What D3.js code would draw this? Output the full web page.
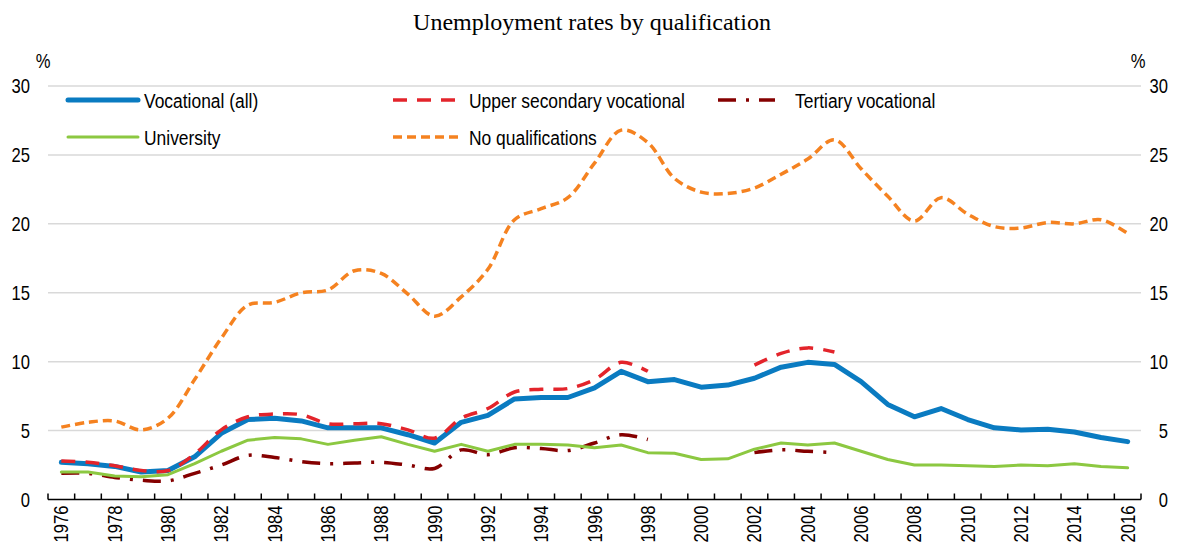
<!DOCTYPE html>
<html>
<head>
<meta charset="utf-8">
<script src="https://cdn.jsdelivr.net/npm/d3@7"></script>
<style>
  body { margin: 0; background: #fff; }
  text { font-family: "Liberation Sans Narrow", "Arial Narrow", "Liberation Sans", Arial, sans-serif; }
</style>
</head>
<body>
<div id="chart"></div>
<script>
// data
var years = d3.range(1976, 2017);

var vocationalAll = [2.7, 2.6, 2.4, 2.0, 2.1, 3.1, 4.8, 5.8, 5.9, 5.7, 5.2, 5.2, 5.2, 4.7, 4.1,
  5.6, 6.1, 7.3, 7.4, 7.4, 8.1, 9.3, 8.55, 8.7, 8.15, 8.3, 8.8, 9.6, 9.95, 9.8,
  8.55, 6.9, 6.0, 6.6, 5.8, 5.2, 5.05, 5.1, 4.9, 4.5, 4.2];

var upperSecondary = [2.8, 2.7, 2.45, 2.1, 2.1, 3.3, 5.05, 6.0, 6.2, 6.15, 5.5, 5.5, 5.5, 5.05, 4.45,
  5.9, 6.6, 7.8, 8.0, 8.05, 8.7, 9.95, 9.3, null, null, null, 9.75, 10.6, 11.0, 10.7,
  null, null, null, null, null, null, null, null, null, null, null];

var tertiary = [1.9, 1.9, 1.6, 1.4, 1.35, 1.9, 2.5, 3.2, 3.05, 2.75, 2.6, 2.65, 2.7, 2.5, 2.25,
  3.6, 3.25, 3.75, 3.7, 3.55, 4.1, 4.7, 4.35, null, null, null, 3.4, 3.6, 3.5, 3.4,
  null, null, null, null, null, null, null, null, null, null, null];

var university = [2.0, 2.0, 1.7, 1.65, 1.8, 2.6, 3.5, 4.3, 4.5, 4.4, 4.0, 4.3, 4.55, 4.0, 3.5,
  4.0, 3.5, 4.0, 4.0, 3.95, 3.75, 3.95, 3.4, 3.35, 2.9, 2.95, 3.65, 4.1, 3.95, 4.1,
  3.5, 2.9, 2.5, 2.5, 2.45, 2.4, 2.5, 2.45, 2.6, 2.4, 2.3];

var noQualifications = [5.25, 5.6, 5.7, 5.05, 5.9, 8.7, 11.7, 14.1, 14.3, 15.0, 15.2, 16.6, 16.4, 14.9, 13.3,
  14.7, 16.7, 20.3, 21.1, 21.9, 24.4, 26.8, 25.9, 23.3, 22.3, 22.2, 22.6, 23.6, 24.7, 26.1,
  24.0, 22.0, 20.2, 21.9, 20.7, 19.8, 19.7, 20.1, 20.0, 20.3, 19.3];

var yTicks = [0, 5, 10, 15, 20, 25, 30];
var yearLabels = years.filter(function(d) { return d % 2 === 0; });

var series = [
  {name: "Vocational (all)", values: vocationalAll, color: "#0a7bc1", width: 5, dash: null, curve: d3.curveLinear},
  {name: "Upper secondary vocational", values: upperSecondary, color: "#e3242b", width: 3.5, dash: "14,10", curve: d3.curveCatmullRom},
  {name: "Tertiary vocational", values: tertiary, color: "#850000", width: 3.5, dash: "18,10,3,10", curve: d3.curveCatmullRom},
  {name: "University", values: university, color: "#8cc841", width: 3, dash: null, curve: d3.curveLinear},
  {name: "No qualifications", values: noQualifications, color: "#f58220", width: 3.5, dash: "9,5", curve: d3.curveCatmullRom}
];

var W = 1180, H = 545;
var margin = {top: 86, right: 39, bottom: 45.5, left: 48};
// no narrow font installed: squeeze the sans text horizontally
var squeeze = 0.83;

var svg = d3.select("#chart")
  .append("svg")
    .attr("width", W)
    .attr("height", H);

var x = d3.scaleBand()
  .domain(years)
  .range([margin.left, W - margin.right])
  .padding(0);

var y = d3.scaleLinear()
  .domain([0, 30])
  .range([H - margin.bottom, margin.top]);

function narrowText(g, tx, ty, size, txt, anchor) {
  return g.append("text")
    .attr("transform", "translate(" + tx + "," + ty + ") scale(" + squeeze + ",1)")
    .attr("text-anchor", anchor || "start")
    .style("font-size", size + "px")
    .text(txt);
}

// title
svg.append("text")
  .attr("x", 592)
  .attr("y", 30)
  .attr("text-anchor", "middle")
  .style("font-family", "'Liberation Serif', 'Times New Roman', serif")
  .style("font-size", "24px")
  .text("Unemployment rates by qualification");

// gridlines
svg.append("g")
  .selectAll("line")
  .data(yTicks.filter(function(d) { return d > 0; }))
  .enter()
  .append("line")
    .attr("x1", margin.left)
    .attr("x2", W - margin.right)
    .attr("y1", function(d) { return y(d); })
    .attr("y2", function(d) { return y(d); })
    .attr("stroke", "#d9d9d9")
    .attr("stroke-width", 1.5);

// y labels, both sides
var yLab = svg.append("g");
yTicks.forEach(function(d) {
  narrowText(yLab, 30, y(d) + 7, 20, d, "end");
  narrowText(yLab, 1168, y(d) + 7, 20, d, "end");
});
narrowText(svg, 43, 68, 20, "%", "middle");
narrowText(svg, 1138, 68, 20, "%", "middle");

// lines
series.forEach(function(s) {
  var line = d3.line()
    .defined(function(d) { return d != null; })
    .x(function(d, i) { return x(years[i]) + x.bandwidth() / 2; })
    .y(function(d) { return y(d); })
    .curve(s.curve);
  svg.append("path")
    .datum(s.values)
    .attr("d", line)
    .attr("fill", "none")
    .attr("stroke", s.color)
    .attr("stroke-width", s.width)
    .attr("stroke-linejoin", "round")
    .attr("stroke-linecap", s.dash ? "butt" : "round")
    .attr("stroke-dasharray", s.dash);
});

// x axis: ticks between categories, pointing up
var xAxis = svg.append("g");
xAxis.append("line")
  .attr("x1", margin.left)
  .attr("x2", W - margin.right)
  .attr("y1", y(0))
  .attr("y2", y(0))
  .attr("stroke", "#000")
  .attr("stroke-width", 1.5);
xAxis.selectAll("line.tick")
  .data(years.concat([2017]))
  .enter()
  .append("line")
    .attr("class", "tick")
    .attr("x1", function(d) { return d === 2017 ? W - margin.right : x(d); })
    .attr("x2", function(d) { return d === 2017 ? W - margin.right : x(d); })
    .attr("y1", y(0))
    .attr("y2", y(0) - 6)
    .attr("stroke", "#000")
    .attr("stroke-width", 1.5);
xAxis.selectAll("text")
  .data(yearLabels)
  .enter()
  .append("text")
    .attr("transform", function(d) {
      return "translate(" + (x(d) + x.bandwidth() / 2 + 7) + "," + (y(0) + 6) + ") rotate(-90) scale(" + squeeze + ",1)";
    })
    .attr("text-anchor", "end")
    .style("font-size", "20px")
    .text(function(d) { return d; });

// legend
var legendPos = [
  {x: 68, y: 100}, {x: 393, y: 100}, {x: 718, y: 100},
  {x: 68, y: 137}, {x: 393, y: 137}
];
var legend = svg.append("g");
series.forEach(function(s, i) {
  var p = legendPos[i];
  var len = i === 2 ? 57 : 70;
  legend.append("line")
    .attr("x1", p.x).attr("x2", p.x + len)
    .attr("y1", p.y).attr("y2", p.y)
    .attr("stroke", s.color)
    .attr("stroke-width", s.width)
    .attr("stroke-linecap", s.dash ? "butt" : "round")
    .attr("stroke-dasharray", s.dash);
  narrowText(legend, i === 2 ? 795 : p.x + 76, p.y + 7.5, 21, s.name);
});
</script>
</body>
</html>
